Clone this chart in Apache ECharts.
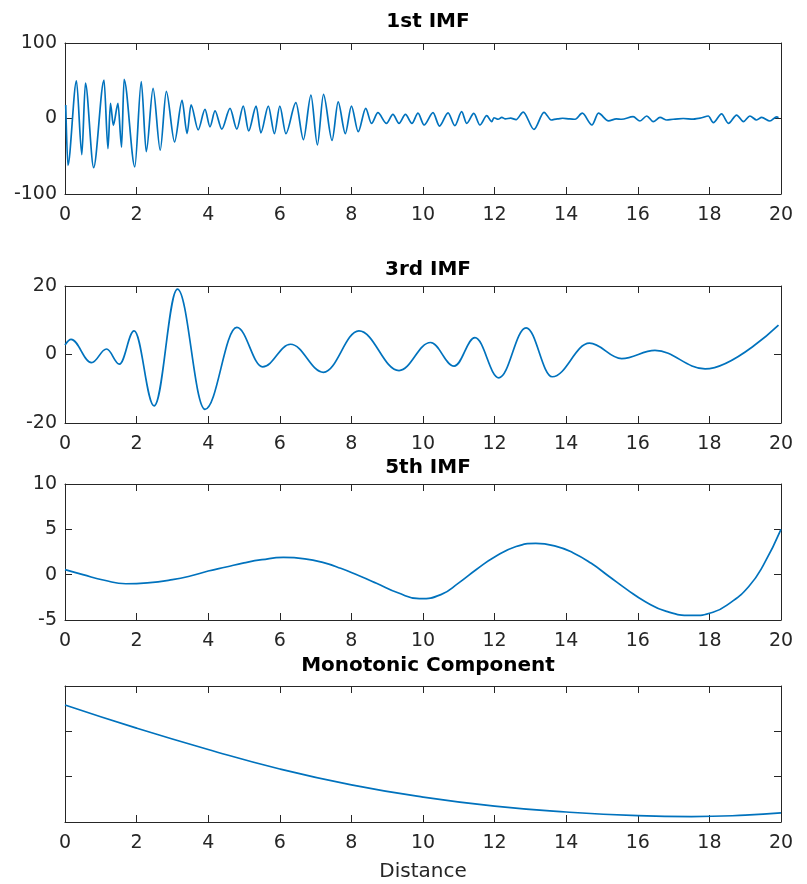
<!DOCTYPE html>
<html>
<head>
<meta charset="utf-8">
<script src="https://cdn.jsdelivr.net/npm/echarts@6/dist/echarts.min.js"></script>
<style>
  html, body { margin: 0; padding: 0; background: #ffffff; }
  #chart { width: 807px; height: 884px; }
</style>
</head>
<body>
<div id="chart"></div>
<script>
// ---- data: distance / value pairs for each component ----
const imf1Dist = [0.02,0.08,0.32,0.47,0.57,0.80,1.09,1.20,1.27,1.35,1.48,1.58,1.65,1.95,2.13,2.27,2.46,2.66,2.83,3.06,3.27,3.41,3.52,3.72,3.91,4.05,4.19,4.38,4.61,4.80,4.98,5.13,5.34,5.47,5.68,5.85,6.00,6.17,6.45,6.66,6.87,7.05,7.22,7.46,7.63,7.83,8.00,8.19,8.40,8.56,8.74,8.98,9.16,9.33,9.51,9.69,9.86,10.03,10.28,10.46,10.70,10.89,11.08,11.22,11.42,11.59,11.78,11.92,11.98,12.10,12.20,12.30,12.45,12.60,12.80,13.10,13.38,13.58,13.75,13.90,14.10,14.25,14.45,14.72,14.90,15.18,15.40,15.55,15.87,16.06,16.25,16.43,16.62,16.81,16.99,17.27,17.55,17.74,17.97,18.11,18.34,18.53,18.76,18.95,19.13,19.32,19.46,19.69,19.88,19.93];
const imf1Vals = [18,-62,50,-48,47,-65,51,-40,20,-9,20,-38,52,-64,49,-44,40,-42,36,-31,24,-20,18,-15,12,-11,10,-14,13.5,-14,16.5,-16.5,16.5,-19,16.5,-20,16.5,-20,21,-28,31,-35,32,-29,22,-20,16.5,-17.5,13.5,-6.5,7.7,-6.5,5.5,-6.5,5.5,-6.5,7,-8.6,7.7,-10,7.5,-9.5,9,-6.4,6.8,-8.6,3.8,-4.2,1,-1,1.5,-0.5,0.5,-1.5,8.5,-14.5,8.2,-2,-0.5,0.3,-0.5,-1,7,-8.6,7,-3.2,-0.5,-1,2.4,-3.3,3.3,-4.2,1.5,-2,-1,0,-0.8,0.5,3.3,-5.5,6,-6.4,4.6,-4.2,3.3,-2,1.5,-3.3,2.2,1];

const imf3Dist = [0,0.17,0.74,1.16,1.52,1.93,2.49,3.14,3.91,4.80,5.52,6.30,7.22,8.21,9.33,10.21,10.87,11.45,12.12,12.88,13.61,14.65,15.55,16.48,17.88,19.93];
const imf3Vals = [2.8,4.4,-2.4,1.6,-2.8,6.9,-15,19.1,-16,7.9,-3.6,3.0,-5.2,6.9,-4.7,3.5,-3.4,4.9,-6.8,7.8,-6.5,3.3,-1.2,1.2,-4.2,8.6];

const imf5Dist = [0,0.5,1.1,1.7,2.3,3,3.5,4,4.5,5,5.5,6.1,6.7,7.2,7.7,8.2,8.7,9.3,9.9,10.5,11,11.5,12,12.6,13.15,13.7,14.2,14.7,15.2,15.7,16.2,16.8,17.5,18.1,18.6,19.1,19.5,20];
const imf5Vals = [0.55,0.0,-0.62,-1.0,-0.9,-0.55,-0.15,0.4,0.85,1.3,1.65,1.9,1.75,1.35,0.7,-0.1,-0.95,-2.0,-2.65,-2.2,-0.9,0.6,1.95,3.1,3.45,3.15,2.4,1.25,-0.2,-1.65,-2.95,-4.05,-4.5,-4.15,-3.05,-1.3,1.0,5.0];

const trendDist = [0,2,4,6,8,10,12,14,16,17.5,19,20];
const trendVals = [2.58,2.07,1.6,1.17,0.82,0.55,0.35,0.22,0.14,0.12,0.15,0.2];

const panelTitles = ['1st IMF', '3rd IMF', '5th IMF', 'Monotonic Component'];
const xTicks = { min: 0, max: 20, interval: 2 };
const yRanges = [
  { min: -100, max: 100, interval: 100 },
  { min: -20, max: 20, interval: 20 },
  { min: -5, max: 10, interval: 5 },
  { min: 0, max: 3, interval: 1 }
];

// ---- layout ----
const FONT = '"DejaVu Sans", "Liberation Sans", Arial, sans-serif';
const AXIS_COLOR = '#262626';
const LINE_COLOR = '#0072BD';
const grids = [
  { left: 65, top: 43, width: 716, height: 151 },
  { left: 65, top: 286, width: 716, height: 137 },
  { left: 65, top: 484, width: 716, height: 136 },
  { left: 65, top: 686, width: 716, height: 136 }
];
const titleTops = [7, 255, 453, 651];

function zip(xs, ys) { return xs.map((x, i) => [x, ys[i]]); }

const xAxes = [], yAxes = [];
grids.forEach((g, i) => {
  const common = {
    type: 'value', gridIndex: i,
    axisLine: { show: true, onZero: false, lineStyle: { color: AXIS_COLOR, width: 1 } },
    axisTick: { show: true, inside: true, length: 7, lineStyle: { color: AXIS_COLOR, width: 1 } },
    splitLine: { show: false }
  };
  xAxes.push(Object.assign({}, common, xTicks, {
    position: 'bottom',
    axisLabel: { show: true, color: AXIS_COLOR, fontSize: 19, fontFamily: FONT, margin: 12 },
    name: i === 3 ? 'Distance' : '',
    nameLocation: 'middle', nameGap: 40,
    nameTextStyle: { color: AXIS_COLOR, fontSize: 20, fontFamily: FONT }
  }));
  xAxes.push(Object.assign({}, common, xTicks, {
    position: 'top', axisLabel: { show: false }
  }));
  yAxes.push(Object.assign({}, common, yRanges[i], {
    position: 'left',
    axisLabel: { show: i !== 3, color: AXIS_COLOR, fontSize: 19, fontFamily: FONT, margin: 8 }
  }));
  yAxes.push(Object.assign({}, common, yRanges[i], {
    position: 'right', axisLabel: { show: false }
  }));
});

const seriesData = [
  { d: zip(imf1Dist, imf1Vals), smooth: 0.3, mono: 'x' },
  { d: zip(imf3Dist, imf3Vals), smooth: 0.38, mono: 'x' },
  { d: zip(imf5Dist, imf5Vals), smooth: 0.5, mono: null },
  { d: zip(trendDist, trendVals), smooth: 0.5, mono: null }
];

const option = {
  animation: false,
  backgroundColor: '#ffffff',
  title: panelTitles.map((t, i) => ({
    text: t, left: 423, top: titleTops[i], textAlign: 'center',
    textStyle: { fontSize: 20, fontWeight: 'bold', color: '#000000', fontFamily: FONT }
  })),
  grid: grids,
  xAxis: xAxes,
  yAxis: yAxes,
  series: seriesData.map((s, i) => ({
    type: 'line', xAxisIndex: i * 2, yAxisIndex: i * 2,
    data: s.d, showSymbol: false, symbol: 'none',
    smooth: s.smooth, smoothMonotone: s.mono || undefined,
    lineStyle: { color: LINE_COLOR, width: 1.7 }
  }))
};

echarts.init(document.getElementById('chart'), null, { renderer: 'canvas' }).setOption(option);
</script>
</body>
</html>
